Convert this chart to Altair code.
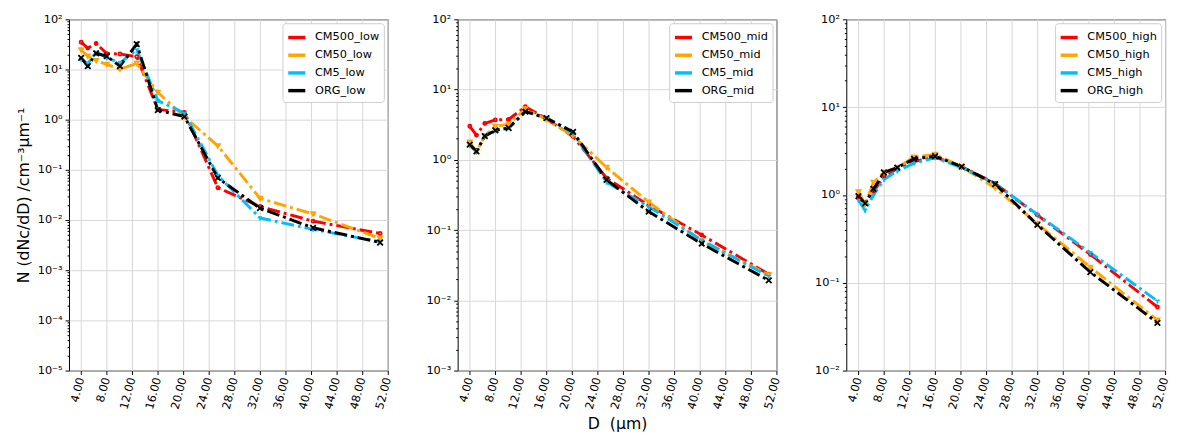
import altair as alt
import pandas as pd

# Diameter bins (µm)
D = [4.0, 5.04, 6.35, 8.0, 10.08, 12.7, 16.0, 20.16, 25.4, 32.0, 40.3, 50.8]

CM500_low = [35, 26.7, 33, 20.7, 20.4, 18, 1.6, 1.4, 0.044, 0.0186, 0.0095, 0.0054]
CM50_low = [24.5, 18.5, 15, 12.6, 10.1, 13.2, 3.5, 1.15, 0.30, 0.027, 0.0132, 0.0043]
CM5_low = [16, 13, 22.3, 17, 13.6, 24.8, 2.4, 1.35, 0.077, 0.011, 0.0065, 0.0037]
ORG_low = [17, 11.7, 21, 18.4, 11.7, 32, 1.55, 1.15, 0.069, 0.0172, 0.0070, 0.00357]

CM500_mid = [3.0, 2.25, 3.3, 3.7, 3.75, 5.7, 3.85, 2.15, 0.55, 0.225, 0.085, 0.0235]
CM50_mid = [1.78, 1.3, 2.2, 3.0, 3.2, 5.3, 3.75, 2.2, 0.78, 0.25, 0.07, 0.023]
CM5_mid = [1.6, 1.3, 2.2, 2.6, 2.85, 4.9, 4.0, 2.4, 0.48, 0.215, 0.072, 0.022]
ORG_mid = [1.65, 1.32, 2.17, 2.63, 2.84, 4.85, 3.92, 2.5, 0.52, 0.183, 0.064, 0.0192]

CM500_high = [0.95, 0.8, 1.1, 1.6, 2.0, 2.4, 2.7, 2.1, 1.35, 0.59, 0.21, 0.053]
CM50_high = [1.08, 0.78, 1.39, 1.8, 2.05, 2.7, 2.9, 2.1, 1.2, 0.47, 0.15, 0.0375]
CM5_high = [0.87, 0.67, 1.0, 1.5, 1.87, 2.3, 2.65, 2.05, 1.35, 0.6, 0.22, 0.062]
ORG_high = [0.97, 0.80, 1.17, 1.8, 2.05, 2.58, 2.76, 2.1, 1.33, 0.457, 0.132, 0.035]

models = ["CM500", "CM50", "CM5", "ORG"]
colors = ["#ff0000", "#ffa500", "#00bfff", "#000000"]
shapes = ["circle", "triangle-down",
          "M0,0L0,1M0,0L-0.87,-0.5M0,0L0.87,-0.5",
          "M-1,-1L1,1M-1,1L1,-1"]
sizes = [10, 32, 36, 24]
x_ticks = [4, 8, 12, 16, 20, 24, 28, 32, 36, 40, 44, 48, 52]

FONT = "DejaVu Sans"
MAJOR = "abs(log(datum.value)/LN10 - round(log(datum.value)/LN10)) < 1e-6"
SUP = {2: "²", 1: "¹", 0: "⁰", -1: "⁻¹", -2: "⁻²", -3: "⁻³", -4: "⁻⁴", -5: "⁻⁵"}


def label_expr():
    e = "round(log(datum.value)/LN10)"
    expr = "''"
    for k, s in SUP.items():
        expr = f"({e} == {k} ? '10{s}' : {expr})"
    return f"{MAJOR} ? {expr} : ''"


def panel(regime, series, ymin, ytitle=None, xtitle=None):
    rows = []
    names = [f"{m}_{regime}" for m in models]
    for m, name, vals in zip(models, names, series):
        for d, v in zip(D, vals):
            rows.append({"D": d, "N": v, "series": name, "model": m})
    df = pd.DataFrame(rows)

    majors = [10.0 ** k for k in range(ymin, 3)]
    minors = [j * 10.0 ** k for k in range(ymin, 2) for j in range(2, 10)]

    x = alt.X("D:Q",
              scale=alt.Scale(domain=[2.1, 52], nice=False, zero=False),
              axis=alt.Axis(values=x_ticks, format=".2f", labelAngle=285,
                            grid=True, tickSize=4, labelFlush=False,
                            labelOverlap=False, domain=False,
                            title=xtitle if xtitle else None,
                            titleFontSize=16, titleFontWeight="normal",
                            titlePadding=6))
    yaxis_kwargs = dict(values=sorted(majors + minors), labelExpr=label_expr(),
                        tickSize={"condition": {"test": MAJOR, "value": 4}, "value": 2},
                        gridOpacity={"condition": {"test": MAJOR, "value": 1}, "value": 0},
                        labelOverlap=False, labelFlush=False, domain=False,
                        title=ytitle if ytitle else None,
                        titleFontSize=16, titleFontWeight="normal", titlePadding=6)
    y = alt.Y("N:Q",
              scale=alt.Scale(type="log", domain=[10.0 ** ymin, 100], nice=False),
              axis=alt.Axis(**yaxis_kwargs))
    legend = alt.Legend(title=None, orient="top-right", offset=4,
                        symbolType="stroke", symbolStrokeWidth=3.5,
                        symbolSize=300, labelFontSize=11.5, labelFont=FONT,
                        labelColor="#000", fillColor="white",
                        strokeColor="#cccccc", padding=4, cornerRadius=3,
                        rowPadding=0, labelOffset=8)
    color = alt.Color("series:N", scale=alt.Scale(domain=names, range=colors),
                      legend=legend)
    base = alt.Chart(df)
    lines = base.mark_line(strokeWidth=3, strokeDash=[13, 4, 3, 4],
                           clip=True).encode(x=x, y=y, color=color)
    pts = base.mark_point(filled=False, strokeWidth=1.8, opacity=1,
                          clip=True).encode(
        x=x, y=y,
        stroke=alt.Stroke("model:N", scale=alt.Scale(domain=models, range=colors),
                          legend=None),
        shape=alt.Shape("model:N", scale=alt.Scale(domain=models, range=shapes),
                        legend=None),
        size=alt.Size("model:N", scale=alt.Scale(domain=models, range=sizes),
                      legend=None),
    )
    return alt.layer(lines, pts).properties(width=324, height=357)


p1 = panel("low", [CM500_low, CM50_low, CM5_low, ORG_low], -5,
           ytitle="N (dNc/dD) /cm⁻³μm⁻¹")
p2 = panel("mid", [CM500_mid, CM50_mid, CM5_mid, ORG_mid], -3,
           xtitle="D\u00a0 (μm)")
p3 = panel("high", [CM500_high, CM50_high, CM5_high, ORG_high], -2)

chart = alt.hconcat(p1, p2, p3, spacing=32).resolve_scale(
    color="independent", shape="independent", size="independent",
    stroke="independent", x="independent", y="independent"
).resolve_legend(color="independent").properties(
    padding={"left": 7, "right": 0, "top": 1, "bottom": 0}
).configure(font=FONT).configure_view(
    stroke="black", strokeWidth=1
).configure_axis(
    labelFont=FONT, titleFont=FONT, labelFontSize=11.5, labelColor="#000",
    titleColor="#000", tickColor="#000", gridColor="#d6d6d6", gridWidth=1,
    labelPadding=3
)

chart.save("out.html", embed_options={"renderer": "svg", "actions": False})
